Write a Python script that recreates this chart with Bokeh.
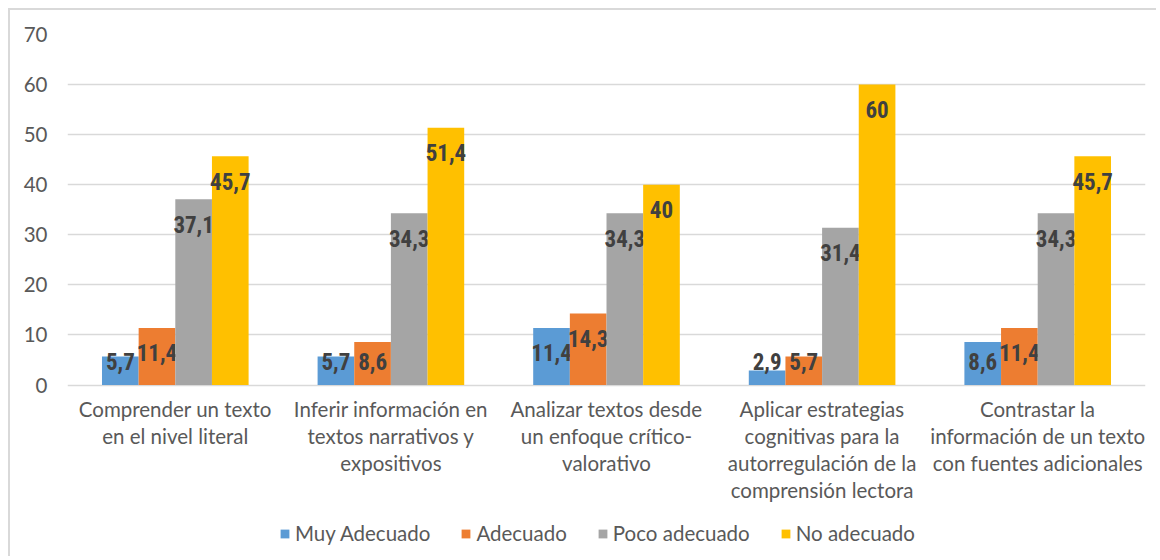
from bokeh.plotting import figure
from bokeh.models import (ColumnDataSource, FixedTicker, Legend, LegendItem, Range1d)
from bokeh.core.properties import value
from bokeh.embed import file_html
from bokeh.resources import INLINE

categories = [
    "Comprender un texto\nen el nivel literal",
    "Inferir información en\ntextos narrativos y\nexpositivos",
    "Analizar textos desde\nun enfoque crítico-\nvalorativo",
    "Aplicar estrategias\ncognitivas para la\nautorregulación de la\ncomprensión lectora",
    "Contrastar la\ninformación de un texto\ncon fuentes adicionales",
]
series_names = ["Muy Adecuado", "Adecuado", "Poco adecuado", "No adecuado"]
muy_adecuado = [5.7, 5.7, 11.4, 2.9, 8.6]
adecuado = [11.4, 8.6, 14.3, 5.7, 11.4]
poco_adecuado = [37.1, 34.3, 34.3, 31.4, 34.3]
no_adecuado = [45.7, 51.4, 40, 60, 45.7]
y_ticks = [0, 10, 20, 30, 40, 50, 60, 70]

series_values = [muy_adecuado, adecuado, poco_adecuado, no_adecuado]
colors = ["#5B9BD5", "#ED7D31", "#A5A5A5", "#FFC000"]

# frame extends below the value axis so that category labels and legend sit inside it
p = figure(width=1148, height=548, output_backend="svg", toolbar_location=None,
           x_range=Range1d(-0.5, len(categories) - 0.5), y_range=Range1d(-34.65, 70),
           min_border_left=57, min_border_right=13, min_border_top=24, min_border_bottom=0)
p.styles = {"margin-left": "8px", "margin-top": "8px",
            "border-left": "2px solid #D9D9D9", "border-top": "2px solid #D9D9D9"}
p.outline_line_color = None
p.background_fill_color = "white"
p.border_fill_color = "white"

# grid
p.xgrid.grid_line_color = None
p.ygrid.ticker = FixedTicker(ticks=y_ticks)
p.ygrid.grid_line_color = "#D9D9D9"
p.ygrid.grid_line_width = 1.5

# y axis
p.yaxis.ticker = FixedTicker(ticks=y_ticks)
p.yaxis.axis_line_color = None
p.yaxis.major_tick_line_color = None
p.yaxis.minor_tick_line_color = None
p.yaxis.major_label_standoff = 14
p.yaxis.major_label_text_font = "Lato"
p.yaxis.major_label_text_font_size = "20.5px"
p.yaxis.major_label_text_color = "#595959"
p.xaxis.visible = False

xs = list(range(len(categories)))

# category labels
cat_src = ColumnDataSource(dict(x=xs, y=[-2.44] * len(xs), t=categories))
p.text(x="x", y="y", text="t", source=cat_src, text_align="center", text_baseline="top",
       text_font=value("Lato"), text_font_size="20.5px", text_color="#595959",
       text_line_height=1.12)

bw = 0.17
offsets = [-1.5 * bw, -0.5 * bw, 0.5 * bw, 1.5 * bw]
items = []
for name, vals, col, off in zip(series_names, series_values, colors, offsets):
    bx = [i + off for i in xs]
    ly = [max(v - 5.0, 4.7) for v in vals]
    lbl = [f"{v:g}".replace(".", ",") for v in vals]
    src = ColumnDataSource(dict(x=bx, top=vals, ly=ly, lbl=lbl))
    r = p.vbar(x="x", top="top", bottom=0, width=bw, source=src,
               fill_color=col, line_color=None)
    p.text(x="x", y="ly", text="lbl", source=src, text_align="center",
           text_baseline="middle", text_font=value("Roboto Condensed, Roboto"),
           text_font_style="bold", text_font_size="23px", text_color="#404040")
    items.append(LegendItem(label=name, renderers=[r]))

legend = Legend(items=items, orientation="horizontal", location=(212, 13),
                glyph_width=11, glyph_height=11, label_standoff=5, spacing=30,
                label_text_font="Lato", label_text_font_size="20.5px",
                label_text_color="#595959", border_line_color=None,
                background_fill_alpha=0, margin=0, padding=0)
p.add_layout(legend, "center")

open("out.html", "w").write(file_html(p, INLINE))
